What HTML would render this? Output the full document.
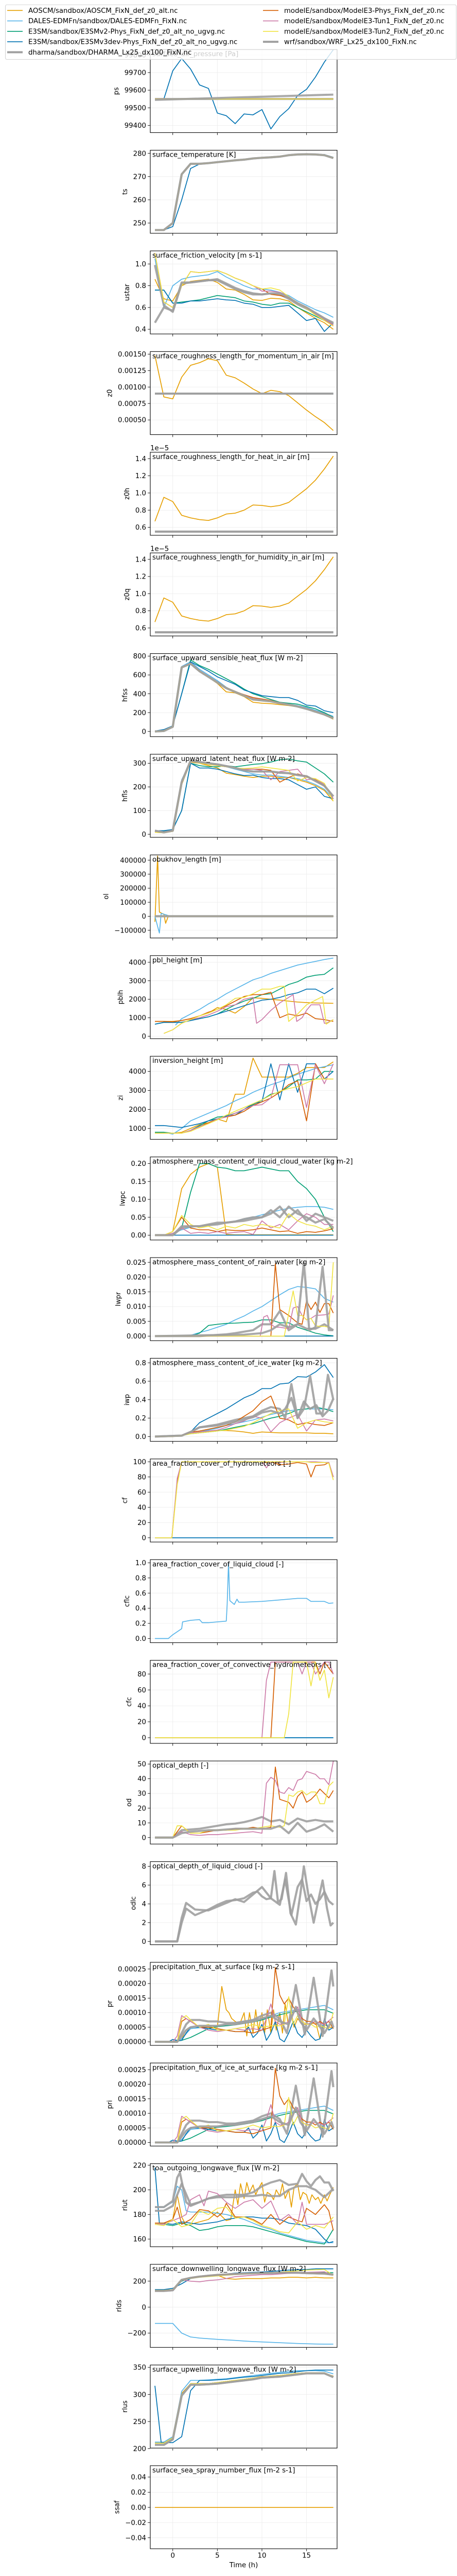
<!DOCTYPE html>
<html><head><meta charset="utf-8"><style>
html,body{margin:0;padding:0;background:#fff;width:100%;height:100%;overflow:hidden}
svg{display:block;position:fixed;left:0;top:0;width:100vw;height:100vh;font-family:"DejaVu Sans","Liberation Sans",sans-serif}
</style></head><body>
<svg id="fig" viewBox="0 0 888 5179" preserveAspectRatio="none" xmlns="http://www.w3.org/2000/svg"></svg>
<script>
const HOURS=[-2,-1,0,1,2,3,4,5,6,7,8,9,10,11,12,13,14,15,16,17,18];
const FLAT_T=[-2,18];
const PS_E3=[99550,99550,99710,99780,99720,99630,99610,99470,99455,99410,99465,99460,99490,99380,99450,99495,99570,99605,99675,99760,99830];
const PS_FLAT=[99550,99550];
const PS_W=[99545,99575];
const TS_COMMON=[247,247,250,271,275.5,275.5,275.8,276.2,276.6,277,277.3,277.8,278.1,278.3,278.6,279.2,279.5,279.6,279.5,279.2,278];
const TS_E3=[247,247,248.5,260,273.5,275.4,275.8,276.2,276.6,277,277.3,277.8,278,278.2,278.6,279.1,279.4,279.6,279.6,279.5,278.3];
const US_A=[0.86,0.68,0.66,0.80,0.84,0.85,0.86,0.83,0.77,0.76,0.72,0.67,0.665,0.685,0.68,0.66,0.6,0.55,0.5,0.46,0.40];
const US_D=[1.05,0.6,0.80,0.86,0.88,0.89,0.90,0.93,0.88,0.84,0.80,0.77,0.77,0.76,0.74,0.71,0.66,0.62,0.58,0.55,0.51];
const US_E2=[0.76,0.76,0.64,0.65,0.66,0.67,0.69,0.71,0.70,0.69,0.66,0.65,0.63,0.62,0.64,0.64,0.6,0.56,0.52,0.48,0.45];
const US_E3=[0.76,0.76,0.64,0.64,0.66,0.66,0.67,0.68,0.67,0.665,0.64,0.63,0.60,0.60,0.61,0.62,0.55,0.48,0.5,0.38,0.46];
const US_H=[0.99,0.62,0.56,0.82,0.83,0.84,0.85,0.85,0.81,0.77,0.74,0.72,0.72,0.73,0.72,0.68,0.63,0.59,0.55,0.5,0.45];
const US_W=[0.46,0.6,0.57,0.83,0.83,0.84,0.85,0.86,0.82,0.78,0.75,0.73,0.72,0.73,0.73,0.69,0.64,0.6,0.55,0.5,0.46];
const US_M=[1.10,0.65,0.60,0.80,0.93,0.92,0.93,0.94,0.91,0.87,0.84,0.80,0.77,0.72,0.71,0.69,0.64,0.6,0.54,0.49,0.43];
const US_T1=[1.10,0.65,0.60,0.80,0.93,0.92,0.93,0.94,0.91,0.87,0.84,0.80,0.75,0.75,0.74,0.70,0.64,0.59,0.54,0.49,0.44];
const US_T2=[1.10,0.65,0.60,0.80,0.93,0.92,0.93,0.94,0.91,0.87,0.84,0.80,0.77,0.78,0.76,0.70,0.64,0.59,0.53,0.48,0.43];
const Z0_A=[0.00148,0.00085,0.00082,0.00115,0.00133,0.00137,0.00143,0.00140,0.00118,0.00114,0.00106,0.00097,0.00090,0.00095,0.00093,0.00087,0.00076,0.00065,0.00055,0.00046,0.00034];
const Z0_FLAT=[0.0009,0.0009];
const Z0H_A=[0.67,0.95,0.9,0.74,0.71,0.69,0.68,0.71,0.755,0.765,0.80,0.86,0.855,0.84,0.855,0.89,0.97,1.05,1.15,1.28,1.43];
const Z0H_FLAT=[0.55,0.55];
const HS_G=[0,5,50,680,720,640,580,520,460,420,380,340,330,320,300,285,265,240,210,180,140];
const HS_A=[0,5,50,680,720,640,575,510,420,410,370,310,300,295,285,275,260,235,205,175,130];
const HS_D=[0,5,50,690,740,660,600,540,470,420,380,345,335,325,305,290,275,255,225,195,160];
const HS_E2=[5,10,60,400,760,700,660,610,560,510,450,400,370,340,310,300,290,265,240,200,150];
const HS_E3=[5,20,60,400,740,690,640,580,540,500,440,410,380,370,360,360,330,280,270,220,200];
const HS_M=[0,5,50,680,720,640,585,525,465,425,390,360,345,330,305,288,268,245,215,185,145];
const HS_T1=[0,5,50,680,725,645,585,522,462,422,385,350,338,322,302,288,270,246,214,184,140];
const HL_G=[15,8,15,220,310,305,300,295,288,280,270,265,265,265,260,258,250,245,225,205,160];
const HL_A=[8,6,12,210,305,300,290,280,258,252,245,240,245,245,240,240,230,220,205,185,140];
const HL_D=[10,8,15,230,310,305,300,290,285,275,265,255,250,250,245,240,235,225,210,190,150];
const HL_E2=[15,12,20,100,300,290,285,285,290,285,290,295,298,305,315,318,310,305,280,255,220];
const HL_E3=[15,15,20,100,300,280,280,275,265,255,248,250,240,235,235,230,210,190,200,160,150];
const HL_M=[10,8,15,220,310,300,295,290,285,280,275,275,275,270,220,240,255,245,230,205,150];
const HL_T1=[10,8,15,220,310,300,295,290,285,280,275,275,270,230,265,270,275,230,235,210,150];
const HL_T2=[8,6,12,215,310,300,295,290,285,280,278,280,285,280,275,270,225,240,235,215,140];
const OL_A_T=[-2,-1.7,-1.5,-1.2,-1,-0.8,-0.5,0,18];
const OL_A=[-40000,430000,30000,20000,15000,-50000,0,0,0];
const OL_D_T=[-2,-1.5,-1.3,-1,-0.5,0,18];
const OL_D=[0,-120000,20000,15000,5000,0,0];
const OL_FLAT=[0,0];
const PB_D_T=[0.3,1,2,3,4,5,6,7,8,9,10,11,12,13,14,15,16,17,18];
const PB_D=[600,950,1200,1450,1750,2000,2300,2550,2800,3050,3200,3400,3550,3700,3850,3950,4050,4150,4230];
const PB_A=[800,800,800,850,950,1100,1250,1550,1450,1250,1600,2080,2050,2000,1950,1900,1850,1820,1800,1790,1780];
const PB_E3=[650,750,750,750,850,950,1050,1200,1350,1500,1650,1800,1950,2000,2100,2250,2350,2550,2550,2300,2600];
const PB_E2=[650,750,750,750,850,950,1050,1200,1450,1700,1900,2050,2250,2300,2550,2800,2950,3200,3300,3350,3700];
const PB_M=[800,800,780,850,950,1100,1300,1450,1650,1900,2150,2250,2250,2380,1000,1200,1100,1250,950,900,800];
const PB_T1_T=[-1,0,1,2,3,4,5,6,7,8,9,9.4,10,11,12,13,13.5,13.9,14.5,15,15.5,16,16.5,17,17.2,18];
const PB_T1=[150,350,700,900,1000,1150,1350,1600,1700,2000,2100,700,900,1400,1800,2100,2250,800,1000,1400,1700,1700,1700,700,700,900];
const PB_T2_T=[-1,0,1,2,3,4,5,6,7,8,9,10,11,12,12.5,13,14,15,16,16.8,17.2,18];
const PB_T2=[150,350,700,900,1100,1250,1450,1700,2050,2100,2300,2550,2550,2700,2700,800,1200,1700,1950,2150,650,900];
const ZI_D=[800,800,700,1000,1400,1600,1800,2000,2200,2450,2650,2900,3100,3300,3450,3650,3850,4000,4150,4250,4350];
const ZI_A=[750,750,750,800,1000,1200,1300,1500,1350,2800,2800,4700,3700,3700,3700,3700,3900,4200,4200,4200,4500];
const ZI_E3=[1150,1150,1100,1050,1150,1250,1400,1500,1650,1700,2000,2300,2400,4400,2500,4400,2900,4400,4400,3600,4000];
const ZI_E2=[800,800,750,750,900,1150,1400,1600,1650,1800,2000,2250,2500,2800,2900,3200,3550,3550,3600,4000,4000];
const ZI_M=[750,750,750,750,900,1100,1300,1500,1600,1700,1900,2200,2400,2600,2900,3300,3500,1400,4400,3600,3600];
const ZI_T1=[750,750,750,750,900,1100,1250,1500,1600,1800,2000,2200,2250,2600,4350,4350,4350,2100,4350,3350,4400];
const ZI_T2=[750,750,750,750,850,1050,1250,1450,1700,1900,2100,2300,2500,2750,2950,3100,3200,3400,3600,3600,3600];
const LC_A=[0,0,0.01,0.13,0.17,0.19,0.2,0.19,0.002,0.001,0.001,0.001,0.001,0.001,0.001,0.001,0.001,0.001,0.001,0.001,0.001];
const LC_E2=[0,0,0,0.02,0.12,0.2,0.2,0.19,0.187,0.18,0.18,0.185,0.19,0.185,0.18,0.18,0.15,0.13,0.10,0.05,0.01];
const LC_D=[0,0,0.005,0.015,0.022,0.025,0.028,0.032,0.036,0.04,0.045,0.05,0.057,0.063,0.07,0.075,0.078,0.08,0.08,0.078,0.072];
const LC_H=[0,0,0,0.02,0.025,0.025,0.028,0.03,0.035,0.038,0.04,0.045,0.05,0.06,0.08,0.05,0.07,0.04,0.06,0.05,0.04];
const LC_W=[0,0,0,0.025,0.025,0.025,0.03,0.035,0.035,0.038,0.045,0.05,0.05,0.07,0.05,0.08,0.06,0.05,0.035,0.045,0.02];
const LC_M=[0,0,0.01,0.05,0.02,0.015,0.015,0.01,0.015,0.013,0.013,0.015,0.02,0.015,0.01,0.012,0.005,0.01,0.008,0.012,0.018];
const LC_T1=[0,0,0.005,0.02,0.005,0.008,0.005,0.01,0.005,0.008,0.01,0.002,0.04,0.02,0.03,0.015,0.04,0.06,0.05,0.03,0.03];
const LC_T2=[0,0,0.01,0.055,0.03,0.02,0.025,0.015,0.025,0.02,0.03,0.025,0.03,0.025,0.02,0.06,0.04,0.03,0.025,0.015,0.025];
const ZERO=[0,0];
const LR_D=[0,0,0,0,0.0003,0.0012,0.002,0.003,0.004,0.0055,0.0068,0.0085,0.01,0.012,0.014,0.0158,0.0168,0.0165,0.016,0.0128,0.0115];
const LR_E2=[0,0,0,0,0,0.001,0.0036,0.004,0.0043,0.0044,0.0046,0.0047,0.0055,0.0055,0.0045,0.0045,0.003,0.002,0.001,0.0004,0.0001];
const LR_M_T=[-2,11,11.5,12,13,14,14.5,15,15.5,16,16.5,17,17.5,18];
const LR_M=[0,0,0.0245,0.009,0.007,0.0045,0.004,0.012,0.009,0.0115,0.008,0.011,0.011,0.0078];
const LR_T1_T=[-2,9.8,10.2,10.6,11,11.5,12,13,13.5,14,14.5,15,15.5,16,17,17.5,18];
const LR_T1=[0,0,0.0065,0.007,0.004,0.003,0.003,0.0025,0.0095,0.01,0.007,0.0055,0.006,0.007,0.0072,0.0075,0.0138];
const LR_T2_T=[-2,12.5,13.5,14,14.5,15,15.5,16,16.5,17,17.5,18];
const LR_T2=[0,0,0.0153,0.007,0.007,0.0055,0.006,0.0035,0.0033,0.0033,0.0030,0.025];
const LR_H=[0,0,0,0,0,0,0.0002,0.0004,0.0006,0.001,0.0015,0.002,0.004,0.004,0.0085,0.002,0.004,0.0025,0.0025,0.004,0.002];
const LR_W_T=[-2,8,10,11,12,13,14,14.7,15.3,16,16.8,17.5,18];
const LR_W=[0,0.0005,0.001,0.002,0.004,0.003,0.004,0.025,0.002,0.003,0.0235,0.002,0.002];
const IW_E3=[0,0.005,0.005,0.01,0.05,0.15,0.2,0.25,0.3,0.36,0.42,0.46,0.52,0.52,0.57,0.58,0.65,0.645,0.7,0.78,0.64];
const IW_A=[0,0,0,0.01,0.04,0.05,0.06,0.065,0.065,0.06,0.05,0.035,0.05,0.045,0.04,0.04,0.04,0.04,0.035,0.035,0.03];
const IW_D=[0,0,0,0.01,0.04,0.05,0.07,0.09,0.12,0.14,0.16,0.18,0.21,0.24,0.26,0.28,0.29,0.3,0.3,0.3,0.29];
const IW_E2=[0,0,0,0.01,0.03,0.04,0.05,0.06,0.08,0.1,0.12,0.14,0.17,0.2,0.22,0.25,0.29,0.3,0.32,0.3,0.27];
const IW_M=[0,0,0,0.01,0.05,0.06,0.08,0.1,0.12,0.16,0.22,0.28,0.38,0.44,0.2,0.18,0.13,0.15,0.13,0.12,0.15];
const IW_T1=[0,0,0,0.01,0.04,0.05,0.06,0.07,0.1,0.14,0.17,0.22,0.2,0.05,0.15,0.2,0.24,0.06,0.18,0.19,0.17];
const IW_T2=[0,0,0,0.01,0.03,0.04,0.05,0.06,0.07,0.09,0.11,0.15,0.2,0.25,0.28,0.3,0.09,0.15,0.18,0.16,0.15];
const IW_G_T=[-2,1,2,3,5,7,9,10,11,12,12.6,13.3,14,14.7,15.4,16.1,16.8,17.4,18];
const IW_H=[0,0.01,0.05,0.1,0.13,0.18,0.22,0.28,0.32,0.3,0.2,0.57,0.2,0.3,0.66,0.25,0.25,0.67,0.4];
const IW_W=[0,0.01,0.05,0.1,0.12,0.16,0.21,0.26,0.28,0.25,0.3,0.42,0.2,0.38,0.3,0.34,0.22,0.28,0.41];
const CF_T=[-2,-0.1,0.5,1,10,10.5,11,12,13,14,15,15.5,16,17,17.5,18];
const CF_M=[0,0,75,100,100,99,100,96,97,99,97,80,95,96,99,80];
const CF_T1=[0,0,78,100,100,92,100,99,100,100,100,100,100,99,99,80];
const CF_T2=[0,0,70,100,100,100,100,100,100,100,100,99,99,99,98,76];
const CL_D_T=[-2,-0.5,0,0.5,1,1.1,2,3,3.3,4,5,6,6.1,6.25,6.4,6.9,7.2,7.4,8,10,12,14,15,15.5,16,17,17.5,18];
const CL_D=[0,0,0.05,0.09,0.13,0.22,0.24,0.25,0.21,0.21,0.22,0.23,0.45,1.0,0.5,0.45,0.52,0.48,0.48,0.49,0.51,0.53,0.53,0.49,0.49,0.49,0.465,0.47];
const CC_T1_T=[-2,10,10.5,11,12,13,14,14.5,15,15.5,16,17,17.5,18];
const CC_T1=[0,0,72,95,95,95,95,80,95,95,80,95,95,80];
const CC_M_T=[-2,11,11.5,12,15,16,16.5,17,18];
const CC_M=[0,0,95,95,95,95,80,95,80];
const CC_T2_T=[-2,12.5,13,13.5,14,15,15.5,16,16.5,17,17.5,18];
const CC_T2=[0,0,30,95,95,95,65,95,72,85,50,76];
const OD_T1_T=[-2,0,1,2,3,4,5,6,7,8,9,10,10.5,11,11.5,12,12.5,13,13.5,14,14.5,15,16,16.5,17,17.5,18];
const OD_T1=[0,0,4,2,1.5,2,2,2.5,3,3.5,4,3,37,41,39,31,30,34,32,39,40,45,43,40,40,36,52];
const OD_M_T=[-2,0,1,2,3,4,5,6,7,8,9,10,11,11.5,12,13,13.5,14,14.5,15,15.5,16,16.5,17,17.5,18];
const OD_M=[0,0,8,3,3,4,5,5,6,6,7,6,7,48,26,24,20,28,31,24,26,29,33,30,27,32];
const OD_T2_T=[-2,0,0.5,1,2,3,4,5,6,7,8,9,10,11,12,12.5,13,13.5,14,14.5,15,15.5,16,16.5,17,17.5,18];
const OD_T2=[0,0,8,8,3,3,5,5,5,5,6,6,7,8,7,8,29,28,31,32,29,31,31,23,23,35,38];
const OD_H=[0,0,0,5,5.5,6,7,8,9,9.5,10.5,12,14,11,12,9,13,11,12,11,11];
const OD_W=[0,0,0,3,4,4.5,5,5,5.5,6,6,6,6,6,8,3,10,4,6,9,4];
const ODL_H_T=[-2,0.5,1,1.5,2.5,4,5,6,7,8,9,9.5,10,10.5,11,11.4,11.8,12.2,12.7,13.2,13.8,14.3,14.7,15.2,15.8,16.3,16.8,17.3,17.7,18];
const ODL_H=[0,0,2,3.5,2.8,3.4,3.9,4.3,4.4,4.6,5.2,5.3,4.8,4.5,4.6,7.5,4.2,4.5,7.3,3,1.8,5,8,5,2,4.3,6.5,3.5,1.7,2];
const ODL_W_T=[-2,0.5,1,1.5,2.5,4,5,6,7,8,9,10,11,12,12.6,13.3,14,14.5,15,15.5,16,16.5,17,17.5,18];
const ODL_W=[0,0,2.5,4.1,3.4,3.3,3.7,4.1,4.5,4.2,5,5.8,4.6,3.9,6.6,2.8,5.8,6.6,4.3,5,4,4.5,5.3,4.3,3.9];
const PR_A_T=[-2,0,1,1.5,2,3,4,5,5.5,6,6.3,6.6,7,7.5,8,8.3,8.6,9,9.3,9.6,10,10.3,10.6,11,11.3,11.6,12,12.3,12.6,13,13.3,13.6,14,14.5,15,15.5,16,16.5,17,17.5,18];
const PR_A=[0,0,1,4,5,5,5,5,19,11,10,8,7,6,10,2,10,3,11,4,10,3,11,3,11,4,10,3,13,5,10,5,8,6,6,6,7,1,6,5,5];
const PR_D=[0,0,0,1,4.5,4.8,5,5.5,6,6.5,7,7.5,8,9,10,10.5,11,11.5,12,12.5,11];
const PR_E2=[0,0,0,0.5,1.5,3,4.5,5.2,5.5,5.8,6.3,6.8,7.5,8.5,9.3,10,10.5,11,11,11,9.8];
const PR_E3_T=[-2,-0.5,0,0.5,1,1.5,2,3,4,5,6,7,8,8.5,9,9.5,10,10.5,11,11.5,12,12.5,13,13.5,14,14.5,15,15.5,16,16.5,17,17.5,18];
const PR_E3=[0,0,0.8,0.5,0.5,3,5,5,4.5,4,4,3.5,3.5,5,1.5,3,6,0.5,3,7,1,0,3,7,3,1.5,4,2,0.5,1,8,4,5];
const PR_H_T=[-2,0.5,1,1.5,2,3,4,5,6,7,8,9,10,11,12,12.8,13.8,14.8,15.8,16.8,17.8,18];
const PR_H=[0,0,3,6,7.5,7.5,7,7,6.5,6.5,7,7.5,9,10,8,3,19.5,2.5,22,2,24.5,19];
const PR_W_T=[-2,0.5,1,1.5,2,3,4,5,6,7,8,9,10,11,12,13,13.8,14.3,15,15.8,16.3,17,17.8,18];
const PR_W=[0,0,2,4,5,5.5,5.5,5.5,6,6,6.5,7,8,9,7,6,12,7,4,8,6,3,7,5];
const PR_M_T=[-2,0.5,1,1.5,2,3,4,5,6,7,8,9,10,11,11.5,12,12.5,13,13.5,14,14.5,15,15.5,16,16.5,17,17.5,18];
const PR_M=[0,0,7,8,7,5,5,4.5,4,3.5,3.5,3,4,5,25.5,16,13,15,12,10,8,7,7,6,7,6,7,4.5];
const PR_T1_T=[-2,0,0.5,1,1.5,2,3,4,5,6,7,8,9,10,10.5,11,11.5,12,12.5,13,14,14.5,15,16,17,18];
const PR_T1=[0,0,2,9,8,7,5,4,3.5,4,4.5,4,4.5,4,8,13,7,6,6,7,12,7,6,7,6,8.5];
const PR_T2_T=[-2,0.5,1,1.5,2,3,4,5,6,7,8,9,10,11,12,12.5,13,13.5,14,14.5,15,15.5,16,16.5,17,17.5,18];
const PR_T2=[0,0,8,9,7.5,5,6,4,4,4.5,5,6,5,5.5,5.5,6,15.5,6,9,7,6,6,5,5.5,5,4.5,10];
const RU_E3_T=[-2,-1.5,-1,0,1,2,3,4,5,6,7,8,9,10,11,12,13,14,15,16,17,17.5,18];
const RU_E3=[218,173,173,172,174,173,172,173,174,176,177,178,178,177,177,176,173,172,171,168,160,157,158];
const RU_D_T=[-2,-1,0,0.5,1,1.5,2,3,4,5,6,7,8,9,10,11,12,13,14,15,16,17,18];
const RU_D=[186,186,190,203,200,183,182,182,182,181,180,178,176,173,170,168,165,163,161,159,158,157,157];
const RU_E2=[172,172,171,173,171,167,168,170,171,171,171,170,168,166,164,162,160,158,157,156,168];
const RU_A_T=[-2,-1,0,0.5,1,1.5,2,3,4,5,6,6.5,7,7.3,7.6,8,8.3,8.6,9,9.3,9.6,10,10.3,10.6,11,11.3,11.6,12,12.3,12.6,13,13.3,13.6,14,14.3,14.6,15,15.3,15.6,16,16.3,16.6,17,17.3,17.6,18];
const RU_A=[173,173,176,196,178,171,172,174,176,182,175,176,200,188,205,193,206,198,204,196,201,206,190,198,196,192,200,195,205,193,200,186,202,205,192,198,196,189,196,192,194,189,196,191,196,202];
const RU_H_T=[-2,-1,0,0.5,0.8,1.5,2,3,4,5,6,7,8,9,10,11,12,13,14,14.5,15,15.5,16,16.5,17,17.5,18];
const RU_H=[186,186,191,210,214,190,187,190,193,195,196,196,196,198,203,206,208,204,205,213,207,203,208,211,206,206,199];
const RU_W=[183,183,187,205,188,190,193,194,194,194,195,195,196,195,195,200,203,203,200,194,201];
const RU_M_T=[-2,-1,0,0.5,1,2,3,4,5,5.5,6,7,8,9,10,11,12,13,14,14.5,15,16,17,17.5,18];
const RU_M=[173,173,176,186,172,176,184,183,178,181,189,178,178,176,172,180,172,178,175,174,185,180,188,183,167];
const RU_T1_T=[-2,-1,0,1,1.5,2,3,3.5,4,5,6,7,8,9,10,11,12,13,14,14.5,15,16,17,18];
const RU_T1=[172,172,175,178,180,192,196,187,199,197,190,185,190,192,185,191,175,180,172,190,172,172,172,175];
const RU_T2=[172,171,176,170,172,183,180,185,186,177,178,175,171,169,166,165,174,168,171,169,178];
const RD_G=[125,125,130,210,225,235,242,248,252,255,258,260,262,263,265,265,265,262,260,258,250];
const RD_A=[130,130,135,210,225,235,240,245,220,215,220,220,220,225,225,230,230,225,230,225,225];
const RD_E3=[135,135,145,180,220,235,245,250,255,262,265,268,270,275,280,285,288,290,295,295,295];
const RD_T1=[130,130,130,210,200,195,205,210,220,235,240,245,250,250,255,260,265,268,270,272,245];
const RD_T2=[130,130,135,210,220,230,235,240,245,250,255,258,260,265,270,275,280,285,288,290,245];
const RD_E2=[130,130,135,200,225,235,242,248,252,256,260,262,264,266,268,268,268,267,266,265,265];
const RD_D=[-125,-125,-125,-200,-230,-238,-243,-248,-252,-256,-261,-265,-268,-271,-274,-277,-280,-282,-284,-285,-285];
const RS_G=[210,210,220,300,320,320,320,322,324,326,328,330,332,334,335,337,339,340,340,340,333];
const RS_E3_T=[-2,-1.3,0,1,2,3,4,5,6,7,8,9,10,11,12,13,14,15,16,17,18];
const RS_E3=[316,211,211,222,307,326,326,327,328,330,332,333,335,337,339,340,342,344,345,345,345];
const RS_D=[212,212,222,306,326,326,327,328,329,331,333,335,337,339,341,343,344,344,344,343,338];
const RS_H=[207,207,217,298,318,318,319,320,322,324,326,328,331,332,333,335,337,339,339,339,332];
const RS_A=[208,208,218,302,320,320,320,322,324,326,328,330,333,333,335,337,339,340,340,339,334];

const COLORS={A:'#E69F00',D:'#56B4E9',E2:'#009E73',E3:'#0072B2',H:'#a0a0a0',M:'#D55E00',T1:'#CC79A7',T2:'#F0E442',W:'#a0a0a0'};
const ORDER=['A','D','E2','E3','H','M','T1','T2','W'];
const LEGEND_LABELS=['AOSCM/sandbox/AOSCM_FixN_def_z0_alt.nc','DALES-EDMFn/sandbox/DALES-EDMFn_FixN.nc','E3SM/sandbox/E3SMv2-Phys_FixN_def_z0_alt_no_ugvg.nc','E3SM/sandbox/E3SMv3dev-Phys_FixN_def_z0_alt_no_ugvg.nc','dharma/sandbox/DHARMA_Lx25_dx100_FixN.nc','modelE/sandbox/ModelE3-Phys_FixN_def_z0.nc','modelE/sandbox/ModelE3-Tun1_FixN_def_z0.nc','modelE/sandbox/ModelE3-Tun2_FixN_def_z0.nc','wrf/sandbox/WRF_Lx25_dx100_FixN.nc'];
const X_TICKS=[0,5,10,15];

const PANELS=[
 {id:'ps',title:'surface_air_pressure [Pa]',ylim:[99359,99831],ticks:[99400,99500,99600,99700,99800],labels:['99400','99500','99600','99700','99800'],
  s:[['A',FLAT_T,PS_FLAT],['D',FLAT_T,PS_FLAT],['E2',FLAT_T,PS_FLAT],['E3',HOURS,PS_E3],['H',FLAT_T,PS_FLAT],['M',FLAT_T,PS_FLAT],['T1',FLAT_T,PS_FLAT],['T2',FLAT_T,PS_FLAT],['W',FLAT_T,PS_W]]},
 {id:'ts',title:'surface_temperature [K]',ylim:[245.6,281.35],ticks:[250,260,270,280],labels:['250','260','270','280'],
  s:[['A',HOURS,TS_COMMON],['D',HOURS,TS_COMMON],['E2',HOURS,TS_COMMON],['E3',HOURS,TS_E3],['H',HOURS,TS_COMMON],['M',HOURS,TS_COMMON],['T1',HOURS,TS_COMMON],['T2',HOURS,TS_COMMON],['W',HOURS,TS_COMMON]]},
 {id:'ustar',title:'surface_friction_velocity [m s-1]',ylim:[0.357,1.12],ticks:[0.4,0.6,0.8,1.0],labels:['0.4','0.6','0.8','1.0'],
  s:[['A',HOURS,US_A],['D',HOURS,US_D],['E2',HOURS,US_E2],['E3',HOURS,US_E3],['H',HOURS,US_H],['M',HOURS,US_M],['T1',HOURS,US_T1],['T2',HOURS,US_T2],['W',HOURS,US_W]]},
 {id:'z0',title:'surface_roughness_length_for_momentum_in_air [m]',ylim:[0.000277,0.001539],ticks:[0.0005,0.00075,0.001,0.00125,0.0015],labels:['0.00050','0.00075','0.00100','0.00125','0.00150'],
  s:[['A',HOURS,Z0_A],['H',FLAT_T,Z0_FLAT],['W',FLAT_T,Z0_FLAT],['D',FLAT_T,Z0_FLAT]]},
 {id:'z0h',title:'surface_roughness_length_for_heat_in_air [m]',ylim:[0.507,1.475],ticks:[0.6,0.8,1.0,1.2,1.4],labels:['0.6','0.8','1.0','1.2','1.4'],offset:'1e−5',
  s:[['A',HOURS,Z0H_A],['H',FLAT_T,Z0H_FLAT],['W',FLAT_T,Z0H_FLAT],['D',FLAT_T,Z0H_FLAT]]},
 {id:'z0q',title:'surface_roughness_length_for_humidity_in_air [m]',ylim:[0.507,1.475],ticks:[0.6,0.8,1.0,1.2,1.4],labels:['0.6','0.8','1.0','1.2','1.4'],offset:'1e−5',
  s:[['A',HOURS,Z0H_A],['H',FLAT_T,Z0H_FLAT],['W',FLAT_T,Z0H_FLAT],['D',FLAT_T,Z0H_FLAT]]},
 {id:'hfss',title:'surface_upward_sensible_heat_flux [W m-2]',ylim:[-55,827],ticks:[0,200,400,600,800],labels:['0','200','400','600','800'],
  s:[['A',HOURS,HS_A],['D',HOURS,HS_D],['E2',HOURS,HS_E2],['E3',HOURS,HS_E3],['H',HOURS,HS_G],['M',HOURS,HS_M],['T1',HOURS,HS_T1],['T2',HOURS,HS_G],['W',HOURS,HS_G]]},
 {id:'hfls',title:'surface_upward_latent_heat_flux [W m-2]',ylim:[-13,338],ticks:[0,100,200,300],labels:['0','100','200','300'],
  s:[['A',HOURS,HL_A],['D',HOURS,HL_D],['E2',HOURS,HL_E2],['E3',HOURS,HL_E3],['H',HOURS,HL_G],['M',HOURS,HL_M],['T1',HOURS,HL_T1],['T2',HOURS,HL_T2],['W',HOURS,HL_G]]},
 {id:'ol',title:'obukhov_length [m]',ylim:[-155100,437600],ticks:[-100000,0,100000,200000,300000,400000],labels:['−100000','0','100000','200000','300000','400000'],
  s:[['A',OL_A_T,OL_A],['D',OL_D_T,OL_D],['E2',FLAT_T,OL_FLAT],['E3',FLAT_T,OL_FLAT],['H',FLAT_T,OL_FLAT],['M',FLAT_T,OL_FLAT],['T1',FLAT_T,OL_FLAT],['T2',FLAT_T,OL_FLAT],['W',FLAT_T,OL_FLAT]]},
 {id:'pblh',title:'pbl_height [m]',ylim:[-132,4363],ticks:[0,1000,2000,3000,4000],labels:['0','1000','2000','3000','4000'],
  s:[['A',HOURS,PB_A],['D',PB_D_T,PB_D],['E2',HOURS,PB_E2],['E3',HOURS,PB_E3],['M',HOURS,PB_M],['T1',PB_T1_T,PB_T1],['T2',PB_T2_T,PB_T2]]},
 {id:'zi',title:'inversion_height [m]',ylim:[427,4795],ticks:[1000,2000,3000,4000],labels:['1000','2000','3000','4000'],
  s:[['A',HOURS,ZI_A],['D',HOURS,ZI_D],['E2',HOURS,ZI_E2],['E3',HOURS,ZI_E3],['M',HOURS,ZI_M],['T1',HOURS,ZI_T1],['T2',HOURS,ZI_T2]]},
 {id:'lwpc',title:'atmosphere_mass_content_of_liquid_cloud_water [kg m-2]',ylim:[-0.0135,0.2186],ticks:[0,0.05,0.1,0.15,0.2],labels:['0.00','0.05','0.10','0.15','0.20'],
  s:[['A',HOURS,LC_A],['D',HOURS,LC_D],['E2',HOURS,LC_E2],['E3',FLAT_T,ZERO],['H',HOURS,LC_H],['M',HOURS,LC_M],['T1',HOURS,LC_T1],['T2',HOURS,LC_T2],['W',HOURS,LC_W]]},
 {id:'lwpr',title:'atmosphere_mass_content_of_rain_water [kg m-2]',ylim:[-0.00155,0.0266],ticks:[0,0.005,0.01,0.015,0.02,0.025],labels:['0.000','0.005','0.010','0.015','0.020','0.025'],
  s:[['A',FLAT_T,ZERO],['D',HOURS,LR_D],['E2',HOURS,LR_E2],['E3',FLAT_T,ZERO],['H',HOURS,LR_H],['M',LR_M_T,LR_M],['T1',LR_T1_T,LR_T1],['T2',LR_T2_T,LR_T2],['W',LR_W_T,LR_W]]},
 {id:'iwp',title:'atmosphere_mass_content_of_ice_water [kg m-2]',ylim:[-0.052,0.849],ticks:[0,0.2,0.4,0.6,0.8],labels:['0.0','0.2','0.4','0.6','0.8'],
  s:[['A',HOURS,IW_A],['D',HOURS,IW_D],['E2',HOURS,IW_E2],['E3',HOURS,IW_E3],['H',IW_G_T,IW_H],['M',HOURS,IW_M],['T1',HOURS,IW_T1],['T2',HOURS,IW_T2],['W',IW_G_T,IW_W]]},
 {id:'cf',title:'area_fraction_cover_of_hydrometeors [-]',ylim:[-5.6,103.7],ticks:[0,20,40,60,80,100],labels:['0','20','40','60','80','100'],
  s:[['D',FLAT_T,ZERO],['E3',FLAT_T,ZERO],['M',CF_T,CF_M],['T1',CF_T,CF_T1],['T2',CF_T,CF_T2]]},
 {id:'cflc',title:'area_fraction_cover_of_liquid_cloud [-]',ylim:[-0.055,1.042],ticks:[0,0.2,0.4,0.6,0.8,1.0],labels:['0.0','0.2','0.4','0.6','0.8','1.0'],
  s:[['D',CL_D_T,CL_D]]},
 {id:'cfc',title:'area_fraction_cover_of_convective_hydrometeors [-]',ylim:[-7.1,97.2],ticks:[0,20,40,60,80],labels:['0','20','40','60','80'],
  s:[['D',FLAT_T,ZERO],['E3',FLAT_T,ZERO],['M',CC_M_T,CC_M],['T1',CC_T1_T,CC_T1],['T2',CC_T2_T,CC_T2]]},
 {id:'od',title:'optical_depth [-]',ylim:[-4.4,52.1],ticks:[0,10,20,30,40,50],labels:['0','10','20','30','40','50'],
  s:[['H',HOURS,OD_H],['M',OD_M_T,OD_M],['T1',OD_T1_T,OD_T1],['T2',OD_T2_T,OD_T2],['W',HOURS,OD_W]]},
 {id:'odlc',title:'optical_depth_of_liquid_cloud [-]',ylim:[-0.35,8.5],ticks:[0,2,4,6,8],labels:['0','2','4','6','8'],
  s:[['H',ODL_H_T,ODL_H],['W',ODL_W_T,ODL_W]]},
 {id:'pr',title:'precipitation_flux_at_surface [kg m-2 s-1]',ylim:[-1.23,27.3],ticks:[0,5,10,15,20,25],labels:['0.00000','0.00005','0.00010','0.00015','0.00020','0.00025'],
  s:[['A',PR_A_T,PR_A],['D',HOURS,PR_D],['E2',HOURS,PR_E2],['E3',PR_E3_T,PR_E3],['H',PR_H_T,PR_H],['M',PR_M_T,PR_M],['T1',PR_T1_T,PR_T1],['T2',PR_T2_T,PR_T2],['W',PR_W_T,PR_W]]},
 {id:'pri',title:'precipitation_flux_of_ice_at_surface [kg m-2 s-1]',ylim:[-1.23,27.3],ticks:[0,5,10,15,20,25],labels:['0.00000','0.00005','0.00010','0.00015','0.00020','0.00025'],
  s:[['D',HOURS,PR_D],['E2',HOURS,PR_E2],['E3',PR_E3_T,PR_E3],['H',PR_H_T,PR_H],['M',PR_M_T,PR_M],['T1',PR_T1_T,PR_T1],['T2',PR_T2_T,PR_T2],['W',PR_W_T,PR_W]]},
 {id:'rlut',title:'toa_outgoing_longwave_flux [W m-2]',ylim:[153.8,221.3],ticks:[160,180,200,220],labels:['160','180','200','220'],
  s:[['A',RU_A_T,RU_A],['D',RU_D_T,RU_D],['E2',HOURS,RU_E2],['E3',RU_E3_T,RU_E3],['H',RU_H_T,RU_H],['M',RU_M_T,RU_M],['T1',RU_T1_T,RU_T1],['T2',HOURS,RU_T2],['W',HOURS,RU_W]]},
 {id:'rlds',title:'surface_downwelling_longwave_flux [W m-2]',ylim:[-310,329.5],ticks:[-200,0,200],labels:['−200','0','200'],
  s:[['A',HOURS,RD_A],['D',HOURS,RD_D],['E2',HOURS,RD_E2],['E3',HOURS,RD_E3],['H',HOURS,RD_G],['M',HOURS,RD_G],['T1',HOURS,RD_T1],['T2',HOURS,RD_T2],['W',HOURS,RD_G]]},
 {id:'rlus',title:'surface_upwelling_longwave_flux [W m-2]',ylim:[201,354.4],ticks:[200,250,300,350],labels:['200','250','300','350'],
  s:[['A',HOURS,RS_A],['D',HOURS,RS_D],['E2',HOURS,RS_G],['E3',RS_E3_T,RS_E3],['H',HOURS,RS_H],['M',HOURS,RS_G],['T1',HOURS,RS_G],['T2',HOURS,RS_G],['W',HOURS,RS_H]]},
 {id:'ssaf',title:'surface_sea_spray_number_flux [m-2 s-1]',ylim:[-0.0545,0.055],ticks:[-0.04,-0.02,0,0.02,0.04],labels:['−0.04','−0.02','0.00','0.02','0.04'],
  s:[['A',FLAT_T,ZERO]]}
];
const YLABELS=['ps','ts','ustar','z0','z0h','z0q','hfss','hfls','ol','pblh','zi','lwpc','lwpr','iwp','cf','cflc','cfc','od','odlc','pr','pri','rlut','rlds','rlus','ssaf'];

const NS='http://www.w3.org/2000/svg';
const svg=document.getElementById('fig');
function mk(tag,attrs,parent){const e=document.createElementNS(NS,tag);for(const k in attrs)e.setAttribute(k,attrs[k]);(parent||svg).appendChild(e);return e;}
const AX_L=292,AX_R=655,X0=335.7,XS=17.33,PH=167,PITCH=202.4,TOP0=99.6;
const xPix=t=>X0+XS*t;
const FS=13.3;
const CW={'0':8.4,'1':8.4,'2':8.4,'3':8.4,'4':8.4,'5':8.4,'6':8.4,'7':8.4,'8':8.4,'9':8.4,'.':4.2,'−':11.1};
const textW=s=>[...s].reduce((a,c)=>a+(CW[c]||8),0);

PANELS.forEach((p,i)=>{
  const top=TOP0+PITCH*i,bot=top+PH;
  const yPix=v=>bot-(v-p.ylim[0])/(p.ylim[1]-p.ylim[0])*PH;
  const g=mk('g',{});
  
  
  const cp=mk('clipPath',{id:'clip'+i},g);
  mk('rect',{x:AX_L,y:top,width:AX_R-AX_L,height:PH},cp);
  X_TICKS.forEach(t=>{
    const gl=mk('line',{x1:xPix(t),x2:xPix(t),y1:top,y2:bot,stroke:'#ebebeb','stroke-width':0.8},g);
    
    
    const tk=mk('line',{x1:xPix(t),x2:xPix(t),y1:bot,y2:bot+4.9,stroke:'#000','stroke-width':0.9},g);
    
    
  });
  let maxW=0;
  p.ticks.forEach((v,k)=>{
    const y=yPix(v);
    const gl=mk('line',{x1:AX_L,x2:AX_R,y1:y,y2:y,stroke:'#ebebeb','stroke-width':0.8},g);
    
    
    const tk=mk('line',{x1:AX_L-4.9,x2:AX_L,y1:y,y2:y,stroke:'#000','stroke-width':0.9},g);
    
    
    const tl=mk('text',{x:AX_L-8,y:y+4.8,'text-anchor':'end','font-size':FS,fill:'#000'},g);
    tl.textContent=p.labels[k];
    
    
    maxW=Math.max(maxW,textW(p.labels[k]));
  });
  const sg=mk('g',{'clip-path':'url(#clip'+i+')'},g);
  const byKey={};p.s.forEach(s=>byKey[s[0]]=s);
  ORDER.forEach(key=>{
    const s=byKey[key]; if(!s) return;
    const T=s[1],V=s[2];
    let d='';
    for(let k=0;k<V.length;k++){d+=(k?'L':'M')+xPix(T[k]).toFixed(2)+' '+yPix(V[k]).toFixed(2);}
    const thick=(key==='H'||key==='W');
    const path=mk('path',{d:d,fill:'none',stroke:COLORS[key],'stroke-width':thick?4.2:1.7,'stroke-linejoin':'round','stroke-opacity':thick?0.9:1},sg);
    
    
  });
  const fr=mk('rect',{x:AX_L,y:top,width:AX_R-AX_L,height:PH,fill:'none',stroke:'#000','stroke-width':1.1},g);
  
  
  const tt=mk('text',{x:AX_L+4,y:top+13.5,'font-size':FS,fill:'#000'},g);
  tt.textContent=p.title;
  
  
  if(p.offset){
    const ot=mk('text',{x:AX_L,y:top-4,'font-size':FS,fill:'#000'},g);
    ot.textContent=p.offset;
    
    
  }
  const lx=AX_L-8-maxW-12;
  const yl=mk('text',{x:lx,y:top+PH/2,'text-anchor':'middle','font-size':FS,fill:'#000',transform:'rotate(-90 '+lx+' '+(top+PH/2)+')'},g);
  yl.textContent=YLABELS[i];
  
  
  if(i===PANELS.length-1){
    X_TICKS.forEach(t=>{
      const xl=mk('text',{x:xPix(t),y:bot+18,'text-anchor':'middle','font-size':FS,fill:'#000'},g);
      xl.textContent=String(t);
      
      
    });
    const xt=mk('text',{x:(AX_L+AX_R)/2,y:bot+37,'text-anchor':'middle','font-size':FS,fill:'#000'},g);
    xt.textContent='Time (h)';
    
    
  }
});

const lg=mk('g',{});


const lb=mk('rect',{x:10.5,y:9.5,width:876,height:110,rx:3,fill:'rgba(255,255,255,0.8)',stroke:'#d0d0d0','stroke-width':1},lg);


ORDER.forEach((key,k)=>{
  const col=k<5?0:1,row=k<5?k:k-5;
  const y=21+row*21;
  const hx=col?511:14;
  const thick=(key==='H'||key==='W');
  const ln=mk('line',{x1:hx,x2:hx+30,y1:y,y2:y,stroke:COLORS[key],'stroke-width':thick?4.2:1.7},lg);
  
  
  const tx=mk('text',{x:hx+41,y:y+4.8,'font-size':FS,fill:'#000'},lg);
  tx.textContent=LEGEND_LABELS[k];
  
  
});
</script>
</body></html>
